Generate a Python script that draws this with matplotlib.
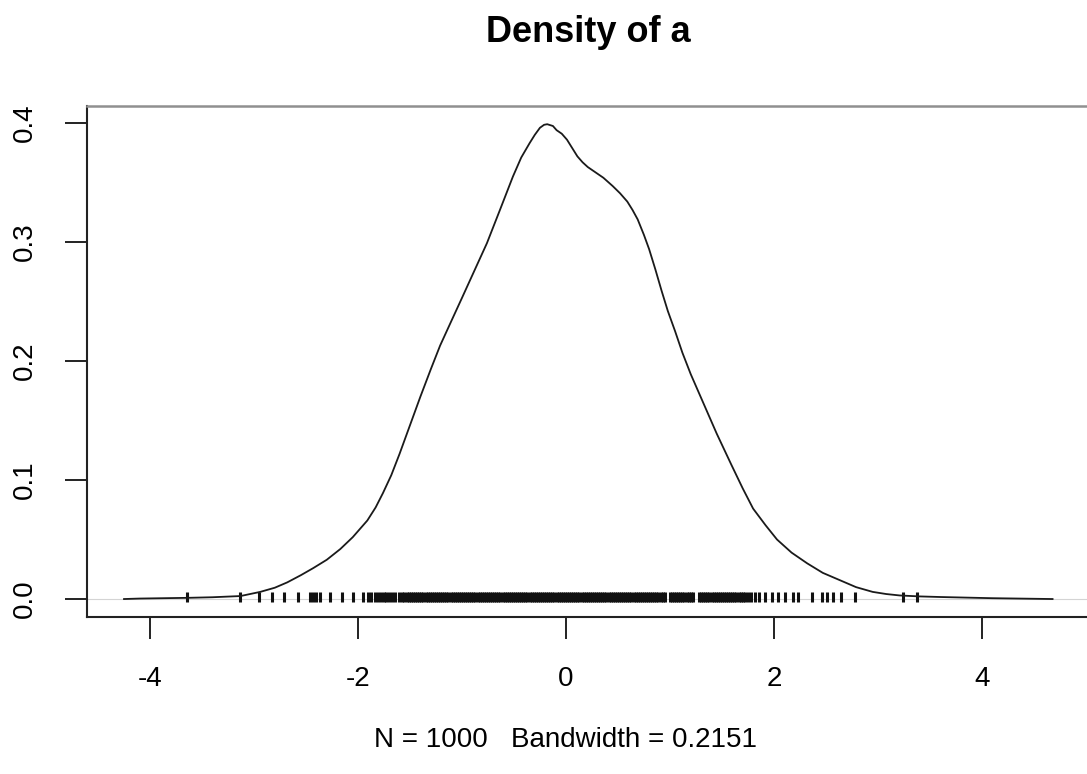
import matplotlib
matplotlib.use("Agg")
import matplotlib.pyplot as plt

plt.rcParams['font.family'] = ['Liberation Sans', 'DejaVu Sans']

# density curve
dens_x = [-4.25, -4.10, -3.64, -3.40, -3.13, -2.94, -2.80, -2.68, -2.55, -2.43,
          -2.30, -2.17, -2.05, -1.91, -1.83, -1.76, -1.68, -1.60, -1.50, -1.40,
          -1.30, -1.21, -1.10, -1.00, -0.88, -0.76, -0.63, -0.51, -0.43, -0.35,
          -0.30, -0.25, -0.21, -0.18, -0.125, -0.09, -0.04, 0.01, 0.06, 0.11,
          0.16, 0.21, 0.26, 0.36, 0.45, 0.52, 0.59, 0.64, 0.69, 0.75,
          0.80, 0.86, 0.92, 0.98, 1.05, 1.12, 1.20, 1.33, 1.45, 1.59,
          1.70, 1.80, 1.92, 2.03, 2.17, 2.32, 2.47, 2.63, 2.79, 2.95,
          3.08, 3.21, 3.40, 3.60, 4.10, 4.68]
dens_y = [0.0, 0.0004, 0.001, 0.0015, 0.0025, 0.006, 0.0095, 0.014, 0.020, 0.026,
          0.033, 0.042, 0.052, 0.066, 0.077, 0.089, 0.104, 0.122, 0.146, 0.17,
          0.193, 0.213, 0.234, 0.253, 0.276, 0.299, 0.328, 0.355, 0.371, 0.383,
          0.390, 0.396, 0.3985, 0.399, 0.3975, 0.394, 0.391, 0.386, 0.379, 0.372,
          0.367, 0.363, 0.360, 0.354, 0.347, 0.341, 0.334, 0.327, 0.319, 0.306,
          0.294, 0.277, 0.259, 0.242, 0.225, 0.207, 0.189, 0.163, 0.139, 0.113,
          0.093, 0.076, 0.062, 0.050, 0.039, 0.030, 0.022, 0.016, 0.010, 0.006,
          0.0042, 0.003, 0.0022, 0.0017, 0.0007, 0.0]

# rug positions
rug_x = [
    -3.64, -3.13, -2.95, -2.83, -2.71, -2.58, -2.46, -2.43, -2.40, -2.37,
    -2.27, -2.15, -2.05, -1.95, -1.90, -1.87, -1.84, -1.81, -1.78, -1.75, -1.73,
    -1.70, -1.67, -1.64, -1.61, -1.58, -1.56, -1.53, -1.51, -1.49, -1.47,
    -1.45, -1.43, -1.41, -1.39, -1.37, -1.35, -1.33, -1.31, -1.29, -1.27, -1.25,
    -1.23, -1.21, -1.19, -1.17, -1.15, -1.13, -1.11, -1.09, -1.07, -1.05,
    -1.03, -1.01, -0.99, -0.97, -0.95, -0.93, -0.91, -0.89, -0.87, -0.85,
    -0.83, -0.81, -0.79, -0.77, -0.75, -0.73, -0.71, -0.69, -0.67, -0.65,
    -0.63, -0.61, -0.59, -0.57, -0.55, -0.53, -0.51, -0.49, -0.47, -0.45,
    -0.43, -0.41, -0.39, -0.37, -0.35, -0.33, -0.31, -0.29, -0.27, -0.25,
    -0.23, -0.21, -0.19, -0.17, -0.15, -0.13, -0.11, -0.09, -0.07, -0.05,
    -0.03, -0.01, 0.01, 0.03, 0.05, 0.07, 0.09, 0.11, 0.13, 0.15,
    0.17, 0.19, 0.21, 0.23, 0.25, 0.27, 0.29, 0.31, 0.33, 0.35,
    0.37, 0.39, 0.41, 0.43, 0.45, 0.47, 0.49, 0.51, 0.53, 0.55,
    0.57, 0.59, 0.61, 0.63, 0.65, 0.67, 0.69, 0.71, 0.73, 0.75,
    0.77, 0.79, 0.81, 0.83, 0.85, 0.87, 0.89, 0.91, 0.93, 0.95,
    1.00, 1.02, 1.04, 1.06, 1.08, 1.10, 1.12, 1.14, 1.16, 1.18, 1.20, 1.22,
    1.28, 1.30, 1.32, 1.34, 1.36, 1.38, 1.40, 1.42, 1.44, 1.46, 1.48, 1.50,
    1.52, 1.54, 1.56, 1.58, 1.60, 1.62, 1.64, 1.66, 1.68, 1.70, 1.72, 1.75,
    1.78, 1.82, 1.86, 1.91, 1.98, 2.04, 2.11, 2.18, 2.23, 2.37, 2.46, 2.51,
    2.57, 2.65, 2.78, 3.24, 3.38,
]

x_ticks = [-4, -2, 0, 2, 4]
y_ticks = [0.0, 0.1, 0.2, 0.3, 0.4]
y_tick_labels = ["0.0", "0.1", "0.2", "0.3", "0.4"]
title = "Density of a"
x_label = "N = 1000   Bandwidth = 0.2151"

fig = plt.figure(figsize=(10.87, 7.74), dpi=100)
ax = fig.add_axes([87 / 1087, 1 - 617 / 774, (1090 - 87) / 1087, (617 - 106) / 774])

ax.axhline(0, color="#d4d4d4", lw=0.8, zorder=1)
ax.vlines(rug_x, -0.0025, 0.006, color="#111111", lw=2.2, zorder=2)
ax.plot(dens_x, dens_y, color="#1a1a1a", lw=1.3, zorder=3)

ax.set_xlim(-4.606, 5.04)
ax.set_ylim(-0.0151, 0.4143)
ax.set_xticks(x_ticks)
ax.set_xticklabels([str(t) for t in x_ticks])
ax.set_yticks(y_ticks)
ax.set_yticklabels(y_tick_labels, rotation=90, va="center")
ax.tick_params(axis="both", direction="out", length=15.5, width=1.4,
               labelsize=20, pad=20, color="#222222")

for s in ["left", "bottom"]:
    ax.spines[s].set_linewidth(1.5)
    ax.spines[s].set_color("#222222")
ax.spines["top"].set_linewidth(1.8)
ax.spines["top"].set_color("#909090")
ax.spines["right"].set_visible(False)

ax.set_title(title, fontsize=26, fontweight="bold", pad=46)
ax.set_xlabel(x_label, fontsize=20, labelpad=24)
ax.xaxis.set_label_coords((566 - 87) / 1003, -0.215)

fig.savefig("out.png", dpi=100)
